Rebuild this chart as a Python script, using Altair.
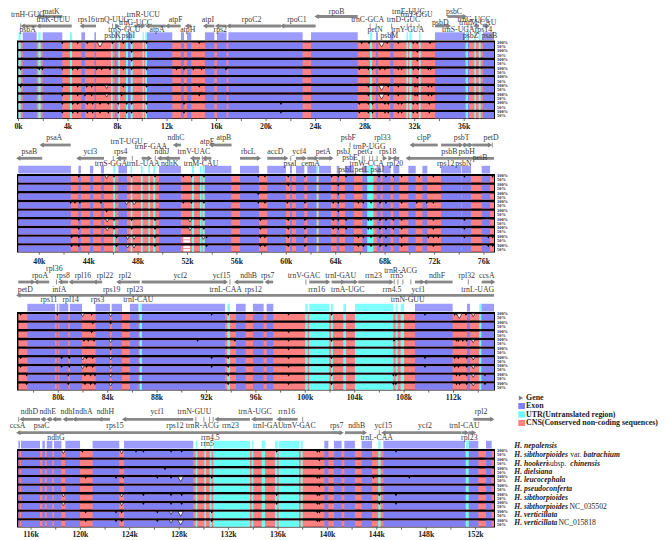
import altair as alt
import pandas as pd

alt.data_transformers.disable_max_rows()

# ---------- panels: axis calibration ----------
PANELS = [
    dict(ref_kb=0,  ref_px=18.5, s=12.38, top=40.5, tick_y=126.5, ticks=list(range(0, 38, 2))),
    dict(ref_kb=40, ref_px=39.3, s=12.35, top=174.0, tick_y=261.5, ticks=list(range(40, 78, 2))),
    dict(ref_kb=80, ref_px=58.3, s=12.35, top=312.0, tick_y=398.0, ticks=list(range(78, 116, 2))),
    dict(ref_kb=116, ref_px=31.0, s=12.35, top=449.0, tick_y=535.0, ticks=list(range(116, 154, 2))),
]
S = 12.36
W, H = 653, 531

# ---------- annotated exons / UTRs (kb) ----------
EXON = [
    [(.34,1.47),(1.95,3.54),(5.08,5.37),(6.13,6.26),(7.8,7.93),(8.84,9.06),(13.12,13.37),(13.61,13.96),(10.38,12.42),(15.06,15.82),(16.03,16.81),(16.95,22.95),(23.63,27.4),(28.88,29.04),(30.03,30.28),(33.64,36.06),(36.31,36.39),(37.52,38.41)],
    [(38.3,42.56),(43.16,43.37),(44.1,44.37),(44.99,45.24),(46.4,47.1),(49.69,51.47),(53.39,55.55),(56.25,57.79),(58.46,59.97),(60.3,60.46),(60.78,61.46),(61.7,62.46),(62.65,63.62),(64.08,64.3),(64.75,65.48),(66.16,66.56),(67.32,67.64),(67.8,68.45),(68.67,69.15),(69.88,70.48),(71.02,71.42),(72.53,74.15),(74.2,74.96),(75.82,76.5)],
    [(77.49,79.73),(79.87,80.0),(80.08,80.81),(80.94,81.92),(83.02,84.18),(84.32,85.16),(85.8,86.5),(86.77,93.5),(94.39,95.17),(95.76,96.63),(96.87,97.41),(108.88,111.93),(113.09,113.34),(114.25,115.28)],
    [(114.97,115.11),(115.19,116.73),(116.92,117.13),(117.27,117.73),(117.86,118.46),(118.78,119.97),(120.99,123.15),(123.53,129.14),(139.75,140.08),(140.53,141.15),(141.37,142.23),(142.77,143.61),(144.53,151.14),(151.44,152.22),(152.84,153.3)],
]
UTR = [
    [(0.0,.18),(1.6,1.79),(4.16,4.32),(7.47,7.6),(8.06,8.2),(8.68,8.84),(9.06,9.22),(10.03,10.13),(10.24,10.38),(28.39,28.55),(31.33,31.46),(31.57,31.76),(32.35,32.48),(36.15,36.31),(36.82,36.95),(37.17,37.33)],
    [(45.99,46.13),(47.4,47.53),(48.23,48.37),(48.83,48.96),(49.23,49.39),(52.36,52.52),(53.01,53.14),(53.22,53.39),(62.46,62.6),(66.56,67.05)],
    [(86.59,86.77),(93.68,93.9),(100.0,100.19),(100.32,101.94),(102.08,102.24),(103.08,103.3),(104.02,107.13),(107.32,107.48),(107.72,107.99),(114.09,114.25)],
    [(129.33,129.47),(130.04,130.17),(130.47,130.63),(130.76,133.73),(133.87,134.0),(134.68,134.95),(135.76,135.95),(136.05,137.7),(137.84,138.0),(144.12,144.31),(151.22,151.44)],
]

# ---------- conservation dips per row (kb): small, open and large ----------
D1 = [[3.54,4.78,5.56,7.58,8.47,9.14,10.35,14.6,27.72,28.31,29.79,30.68,31.89,32.21,33.24],
      [9.14,32.21],[9.14,32.21],
      [.18,1.68,1.93,3.54,4.38,4.78,6.31,6.72,7.39,8.47,9.14,10.35,12.77,13.37,14.12,14.79,16.76,27.53,28.26,28.6,29.2,29.6,30.68,30.95,31.89,32.3,33.1,33.29],
      [32.21],
      [.18,3.54,4.78,5.51,5.91,8.47,10.35,14.6,28.26,29.87,30.68,32.03,32.21,33.1,33.37],
      [3.54,4.78,5.37,5.91,8.33,14.6,28.26,29.87,30.68,32.03,32.21,33.1,33.37],
      [3.54,4.38,4.78,5.56,5.99,6.58,7.26,8.06,8.74,9.14,10.35,13.37,21.2,27.53,28.26,28.6,29.6,29.87,30.68,30.95,31.89,32.21,33.18],
      [3.54,4.38,4.78,5.56,5.99,6.58,7.26,8.06,8.74,9.14,10.35,13.37,21.2,27.53,28.26,28.6,29.6,29.87,30.68,30.95,31.89,32.21,33.18]]
B1 = [[(6.58,1),(29.33,1)],[],[],[],[],[(29.33,1),(7.12,0)],[(29.33,1),(7.12,0)],[],[]]
D2 = [[43.2,46.05,47.48,49.37,51.66,52.33,53.33,57.73,58.27,60.16,61.51,63.67,64.21,64.84,67.51,68.07,68.67,69.34,70.77,71.91,74.42,76.71],
      [60.16,64.21],[57.73,64.21],
      [42.54,42.89,43.29,44.99,51.66,52.33,53.33,57.73,58.27,60.08,61.51,63.8,64.21,65.84,66.24,66.86,67.59,68.07,69.34,70.56,71.37,71.91],
      [45.45,64.21],
      [43.2,46.05,47.48,49.37,53.33,57.9,60.16,61.51,63.8,64.21,64.84,66.64,66.86,67.59,68.07,68.67,69.34,71.91,74.42],
      [43.2,46.05,47.48,49.37,53.33,57.9,60.16,61.51,63.8,64.21,64.84,66.64,66.86,67.59,68.07,68.67,69.34,71.91,74.42],
      [42.62,43.2,46.26,49.37,53.55,57.9,58.27,60.16,61.51,65.84,66.24,66.86,67.59,68.07,69.34,71.5,71.91,72.31,74.42,76.36,76.71],
      [42.62,43.2,46.26,49.37,53.55,57.9,58.27,60.16,61.51,65.84,66.24,66.86,67.59,68.07,69.34,71.91,76.36,76.71]]
B2 = [[(45.45,0)],[],[],[(47.07,0),(47.69,0)],[],[(45.5,0),(52.2,0)],[(45.5,0),(52.2,0)],[(47.15,0),(47.67,0),(53.28,0)],[(47.15,0),(47.67,0)]]
D3 = [[76.95,79.92,82.7,92.42,93.76,98.65,102.13,109.69,112.1,112.3,113.01],
      [82.8,84.24],[82.7,98.65],
      [82.08,82.43,82.89,91.28,94.3,98.65,102.13,107.18,112.25,112.4,112.75,113.07],
      [84.24,98.65],
      [76.95,80.27,80.89,82.29,82.78,92.42,93.76,98.65,102.13,109.69,112.1,112.4,113.07],
      [76.95,80.27,80.89,82.29,82.78,92.42,93.76,98.65,102.13,109.69,112.1,112.4,113.07],
      [77.44,80.81,82.16,82.62,82.97,93.76,98.65,102.13,107.13,107.34,112.25,112.5,113.07,114.55],
      [77.44,80.81,82.16,82.62,82.97,93.76,98.65,102.13,107.13,107.34,112.25,112.5,113.07,114.55]]
B3 = [[(81.97,0),(84.24,0),(112.47,1),(113.6,0)],[],[],[(84.24,0),(113.6,0)],[],[(81.97,0),(84.24,0),(113.6,0)],[(81.97,0),(84.24,0),(113.6,0)],[(84.24,0),(113.6,0)],[(84.24,0),(113.6,0)]]
D4 = [[120.16,124.5,125.1,127.34,128.2,135.89,139.18,139.35,145.55],
      [139.35],[126.85,139.35],
      [120.43,122.88,123.48,126.23,127.34,130.63,139.18,139.35,143.72,146.63],
      [139.35],
      [125.1,127.34,128.2,135.89,139.18,139.35,144.2,145.55],
      [125.1,127.34,128.2,135.89,139.18,139.35,144.2,145.55],
      [120.43,122.88,123.34,126.23,130.63,139.18,139.35],
      [120.43,122.88,123.34,126.23,130.63,139.18,139.35]]
B4 = [[(118.62,0),(123.34,0)],[],[],[(128.12,1)],[],[(118.62,0),(123.34,0)],[(118.62,0),(123.34,0)],[(127.34,0),(128.12,1)],[(127.34,0),(128.12,1)]]
SMALL_DIPS = [D1, D2, D3, D4]
BIG_DIPS = [B1, B2, B3, B4]

# ---------- gene text lanes, arrows and labels ----------
LANES = [
    {0:11.5,1:14.5,2:20,3:23,4:29.5,5:36},
    {0:138.3,1:142.3,2:146.7,3:151.7,4:158.3,5:164,6:170},
    {0:268.7,1:271,2:276,3:290.3,4:300.3},
    {0:411.7,1:426,2:438.3,3:444},
]
ARROW_LANES = [
    {0:16.5,1:26},
    {0:145,1:158.3},
    {0:282,1:295.3},
    {0:419.3,1:432.7},
]
LABELS = [
    [("matK",2.63,0),("trnH-GUG",.75,1),("trnK-UUU",2.81,2),("rps16",5.48,2),("trnQ-UUG",7.58,2),("trnR-UCU",10.08,1),("trnG-UCC",9.44,3),("psbA",.74,4),("psbK",7.6,5),("psbI",8.87,5),("trnS-GCU",8.55,4),("atpA",11.19,4),("atpF",12.69,2),("atpH",13.67,4),("atpI",15.3,2),("rps2",16.3,4),("rpoC2",18.83,2),("rpoC1",22.49,2),("rpoB",25.7,0),("trnC-GCA",28.2,2),("petN",28.8,4),("psbM",29.95,5),("trnD-GUC",31.1,2),("trnY-GUA",31.43,4),("trnE-UUC",31.49,0),("trnT-GGU",32.16,1),("psbD",34.07,3),("psbC",35.18,0),("trnG-UCC",36.79,2),("trnfM-CAU",37.09,3),("trnS-UGA",35.53,4),("rps14",37.55,4),("psbZ",36.52,5),("psaB",38.03,5)],
    [("psaA",41.21,0),("psaB",39.19,3),("ycf3",44.13,3),("rps4",46.59,3),("trnT-UGU",47.07,1),("trnF-GAA",49.04,2),("ndhJ",49.93,3),("ndhK",50.55,5),("ndhC",51.07,0),("trnS-GGA",45.8,5),("trnL-UAA",48.42,5),("trnV-UAC",52.52,3),("trnM-CAU",53.09,5),("atpE",53.6,1),("atpB",54.95,0),("rbcL",56.92,3),("accD",59.11,3),("psaI",60.3,5),("ycf4",61.05,3),("cemA",61.97,5),("petA",63.0,3),("psbJ",64.62,3),("psbL",64.84,6),("psbF",65.02,0),("psbE",65.16,4),("petL",66.1,6),("petG",66.37,3),("trnW-CCA",66.51,5),("trnP-UGG",66.72,2),("psaJ",67.37,6),("rpl33",67.78,0),("rps18",68.21,3),("rpl20",68.8,5),("clpP",71.15,0),("psbB",73.2,3),("psbT",74.2,0),("psbH",74.6,3),("petD",76.58,0),("rps12",72.9,5),("psbN",74.34,5),("petB",75.69,4)],
    [("rpl36",79.68,0),("rpoA",78.52,2),("rps8",80.4,2),("rpl16",82.0,2),("rpl22",83.78,2),("rpl2",85.4,2),("ycf2",89.88,2),("ycf15",93.22,2),("ndhB",95.41,2),("rps7",96.95,2),("trnV-GAC",99.89,2),("trnI-GAU",102.87,2),("petD",77.33,3),("infA",80.08,3),("rps19",84.32,3),("rpl23",86.21,3),("trnL-CAA",93.55,3),("rps12",95.79,3),("rrn16",100.92,3),("rps11",79.24,4),("rpl14",81.0,4),("rps3",83.18,4),("trnI-CAU",86.48,4),("trnA-UGC",103.43,3),("rrn23",105.51,2),("trnR-ACG",107.72,1),("rrn5",107.4,2),("rrn4.5",107.02,3),("trnN-GUU",108.29,4),("ycf1",109.15,3),("ndhF",110.66,2),("rpl32",113.07,2),("trnL-UAG",113.96,3),("ccsA",114.69,2)],
    [("ndhD",115.87,0),("ndhE",117.35,0),("ndhI",118.97,0),("ndhA",120.29,0),("ndhH",122.02,0),("ycf1",126.23,0),("trnN-GUU",129.23,0),("trnA-UGC",134.14,0),("rrn16",136.7,0),("ccsA",114.92,1),("psaC",116.86,1),("rps15",122.8,1),("rps12",127.66,1),("trnR-ACG",129.87,1),("rrn23",132.14,1),("trnI-GAU",135.22,1),("trnV-GAC",137.73,1),("rps7",140.75,1),("ndhG",118.02,2),("rrn4.5",130.52,2),("rrn5",130.28,3),("ndhB",142.37,1),("ycf15",144.53,1),("ycf2",147.9,1),("trnI-CAU",151.09,1),("trnL-CAA",143.99,2),("rpl23",151.49,2),("rpl2",152.44,0)],
]
ARROWS = [   # tail kb, head kb, arrow lane
    [(3.54,1.6,0),(1.47,.34,1),(4.3,1.6,1),(6.26,5.1,1),(9.36,10.08,1),(11.9,10.4,1),(13.1,12.0,1),(13.96,13.6,1),(15.82,15.06,1),(16.81,16.03,1),(21.2,16.95,1),(24.0,21.3,1),(27.4,24.08,0),(7.8,8.0,1),(33.64,34.77,1),(34.64,36.06,0),(37.2,36.9,1),(37.5,37.9,1)],
    [(42.54,40.19,0),(40.24,38.3,1),(45.24,43.16,1),(47.07,46.4,1),(48.29,48.96,1),(50.6,49.7,1),(51.4,50.3,1),(51.47,50.99,0),(53.01,52.36,1),(53.93,53.33,1),(55.57,53.9,0),(56.25,57.79,1),(58.46,60.0,1),(60.78,61.5,1),(61.7,62.46,1),(62.6,63.66,1),(72.26,70.15,0),(72.53,74.15,0),(74.28,74.55,0),(74.6,74.95,0),(75.06,76.5,0),(76.82,69.83,1),(67.8,68.0,1),(68.3,68.45,1),(69.15,68.7,1)],
    [(76.76,77.98,0),(79.27,78.19,0),(80.8,80.15,0),(82.9,81.0,0),(83.55,82.94,0),(86.6,84.86,0),(86.75,93.58,0),(96.6,94.39,0),(97.4,96.87,0),(100.32,101.86,0),(102.13,103.08,0),(103.08,104.11,0),(104.29,106.99,0),(111.93,109.69,0),(108.88,109.5,0),(114.28,115.22,0),(115.28,76.76,1)],
    [(116.73,115.24,0),(117.2,116.92,0),(117.7,117.4,0),(118.46,117.86,0),(119.4,118.73,0),(121.6,119.5,0),(122.4,121.6,0),(129.14,123.53,0),(133.73,131.03,0),(135.57,134.0,0),(137.59,136.03,0),(140.8,114.97,1),(140.5,141.15,1),(141.42,143.04,1),(150.87,144.53,1),(150.9,151.3,1),(151.41,151.87,1),(151.82,153.35,0)],
]
TINY_TICKS = [   # kb, arrow lane
    [(.18,1),(7.6,1),(8.7,1),(8.95,1),(28.4,1),(28.9,1),(30.14,1),(31.4,1),(31.7,1),(32.35,1),(36.3,1),(36.55,1)],
    [(45.99,1),(47.53,1),(49.39,1),(53.2,1),(60.36,1),(65.16,0),(65.5,1),(66.15,1),(66.3,1),(66.75,1),(67.0,1),(67.35,1),(76.68,0)],
    [(79.85,0),(93.9,0),(100.05,0),(107.2,0),(107.5,0),(107.9,0),(108.55,0),(113.2,0)],
    [(115.0,0),(129.35,0),(130.0,0),(130.45,0),(130.75,0),(138.0,0),(144.2,1)],
]

SPECIES = [
    [("H. nepalensis",1,0)],
    [("H. sibthorpioides",1,0),("var.",0,56),("batrachium",1,69.3)],
    [("H. hookeri",1,0),("subsp.",0,32.7),("chinensis",1,56)],
    [("H. dielsiana",1,0)],
    [("H. leucocephala",1,0)],
    [("H. pseudoconferta",1,0)],
    [("H. sibthorpioides",1,0)],
    [("H. sibthorpioides",1,0),("NC_035502",0,55.3)],
    [("H. verticillata",1,0)],
    [("H. verticillata",1,0),("NC_015818",0,44.3)],
]
SPECIES_Y = [446,455,464,472,480,489,497.7,506.7,515.3,523.3]
LEGEND = [("Gene",398,"#777777"),("Exon",406,"#8080F5"),("UTR(Untranslated region)",414.5,"#66FFFF"),("CNS(Conserved non-coding sequences)",423,"#FF8080")]

ROWS = 9
PITCH = 8.68
GRAY = "#888888"
BLUE, CYAN, RED = "#8080F5", "#66FFF5", "#FF8080"
STRIP_BLUE, STRIP_CYAN = "#9C9CFF", "#80FFFF"
FRAME_L, FRAME_R = 17.0, 495.0


def px(x):
    return (x - 8) / S


def py(y):
    return y - 8


def kx(p, kb):
    return px((kb - p["ref_kb"]) * p["s"] + p["ref_px"])


rects, dips, bigd, arrows, heads, ticks, labels, percent, axis_t, axis_l = [], [], [], [], [], [], [], [], [], []


def rect(x, x2, y, y2, c):
    rects.append(dict(x=x, x2=x2, y=py(y), y2=py(y2), c=c))


for i, p in enumerate(PANELS):
    t = p["top"]
    rect(px(FRAME_L), px(FRAME_R), t, t + 78.6, "#000000")
    for a, b in EXON[i]:
        rect(kx(p, a), kx(p, b), t - 8.2, t - 0.5, STRIP_BLUE)
    for a, b in UTR[i]:
        rect(kx(p, a), kx(p, b), t - 8.2, t - 0.5, STRIP_CYAN)
    for r in range(ROWS):
        y0 = t + r * PITCH + 2.1
        y1 = y0 + 6.3
        xa, xb = px(FRAME_L + 1.4), px(FRAME_R - 1.0)
        rect(xa, xb, y0, y1, RED)
        for a, b in EXON[i]:
            rect(max(kx(p, a), xa), min(kx(p, b), xb), y0, y1, BLUE)
        for a, b in UTR[i]:
            rect(max(kx(p, a), xa), min(kx(p, b), xb), y0, y1, CYAN)
        for kb in SMALL_DIPS[i][r]:
            dips.append(dict(x=kx(p, kb), y=py(y0 + 0.6)))
        for kb, large in BIG_DIPS[i][r]:
            bigd.append(dict(x=kx(p, kb), y=py(y0 + (2.0 if large else 1.0)), big="b" if large else "s"))
        percent.append(dict(x=px(497), y=py(t + r * PITCH + 2.2), t="100%"))
        percent.append(dict(x=px(497), y=py(t + r * PITCH + 6.4), t="50%"))
    # white blocks of the large gaps in panel 2, rows 7 and 8
    if i == 1:
        for r in (7, 8):
            y0 = t + r * PITCH + 2.1
            rect(kx(p, 51.66), kx(p, 52.2), y0 + 0.3, y0 + 2.6, "#FFFFFF")
            rect(kx(p, 51.66), kx(p, 52.2), y0 + 3.4, y0 + 5.8, "#FFFFFF")
    for name, kb, lane in LABELS[i]:
        labels.append(dict(x=kx(p, kb), y=py(LANES[i][lane]), t=name))
    for tail, head, lane in ARROWS[i]:
        ya = py(ARROW_LANES[i][lane])
        arrows.append(dict(x=kx(p, tail), x2=kx(p, head), y=ya))
        heads.append(dict(x=kx(p, head), y=ya, d="L" if head < tail else "R"))
    for kb, lane in TINY_TICKS[i]:
        ya = ARROW_LANES[i][lane]
        ticks.append(dict(x=kx(p, kb), y=py(ya - 2.5), y2=py(ya + 2.5)))
    for k in p["ticks"]:
        x = kx(p, k)
        if px(FRAME_L) <= x <= px(FRAME_R):
            axis_t.append(dict(x=x, y=py(t + 78.6), y2=py(t + 80.6)))
            if k % 4 == 0:
                axis_l.append(dict(x=x, y=py(p["tick_y"]), t=f"{k}k"))

# legend rectangles
for name, y, c in LEGEND[1:]:
    rect(px(518.3), px(525), y - 3, y + 3, c)
heads.append(dict(x=px(521), y=py(398), d="R"))

spec_rows = []
for row, y in zip(SPECIES, SPECIES_Y):
    for txt, it, off in row:
        spec_rows.append(dict(x=px(514.3 + off), y=py(y), t=txt, it=it))

xs = alt.Scale(domain=[0, W / S], nice=False, zero=False)
ys = alt.Scale(domain=[H, 0], nice=False, zero=False)
X = alt.X("x:Q", scale=xs, axis=None)
Y = alt.Y("y:Q", scale=ys, axis=None)
FONT = "Liberation Serif"


def D(rows):
    return alt.Data(values=rows)


layers = [
    alt.Chart(D(rects)).mark_rect(strokeWidth=0).encode(X, alt.X2("x2:Q"), Y, alt.Y2("y2:Q"), color=alt.Color("c:N", scale=None)),
    alt.Chart(D(dips)).mark_point(shape="triangle-down", filled=True, size=7, color="#000000", opacity=1).encode(X, Y),
    alt.Chart(D(bigd)).mark_point(shape="triangle-down", filled=True, fill="#FFFFFF", stroke="#000000", strokeWidth=0.6, opacity=1).encode(
        X, Y, size=alt.Size("big:N", scale=alt.Scale(domain=["s", "b"], range=[12, 30]), legend=None)),
    alt.Chart(D(axis_t)).mark_rule(color="#222222", strokeWidth=0.7).encode(X, Y, alt.Y2("y2:Q")),
    alt.Chart(D(ticks)).mark_rule(color="#777777", strokeWidth=0.8).encode(X, Y, alt.Y2("y2:Q")),
    alt.Chart(D(arrows)).mark_rule(color=GRAY, strokeWidth=2.8).encode(X, alt.X2("x2:Q"), Y),
    alt.Chart(D(heads)).mark_point(filled=True, size=26, color="#808080", opacity=1).encode(
        X, Y, shape=alt.Shape("d:N", scale=alt.Scale(domain=["L", "R"], range=["triangle-left", "triangle-right"]), legend=None)),
    alt.Chart(D(labels)).mark_text(font=FONT, fontSize=7.8, color="#3a3a3a", align="center", baseline="middle").encode(X, Y, text="t:N"),
    alt.Chart(D(percent)).mark_text(font=FONT, fontSize=4.4, fontWeight="bold", color="#222222", align="left", baseline="middle").encode(X, Y, text="t:N"),
    alt.Chart(D(axis_l)).mark_text(font=FONT, fontSize=7.8, fontWeight="bold", color="#222222", align="center", baseline="middle").encode(X, Y, text="t:N"),
    alt.Chart(D([dict(x=px(526), y=py(y), t=n) for n, y, c in LEGEND])).mark_text(
        font=FONT, fontSize=7.9, fontWeight="bold", color="#222222", align="left", baseline="middle").encode(X, Y, text="t:N"),
    alt.Chart(D([r for r in spec_rows if r["it"]])).mark_text(
        font=FONT, fontSize=7.6, fontWeight="bold", fontStyle="italic", color="#222222", align="left", baseline="middle").encode(X, Y, text="t:N"),
    alt.Chart(D([r for r in spec_rows if not r["it"]])).mark_text(
        font=FONT, fontSize=7.6, color="#222222", align="left", baseline="middle").encode(X, Y, text="t:N"),
]

chart = alt.layer(*layers).properties(
    width=W, height=H, padding=0, autosize=alt.AutoSizeParams(type="none"),
).configure_view(stroke=None)

chart.save("out.html", embed_options={"renderer": "svg", "actions": False})
